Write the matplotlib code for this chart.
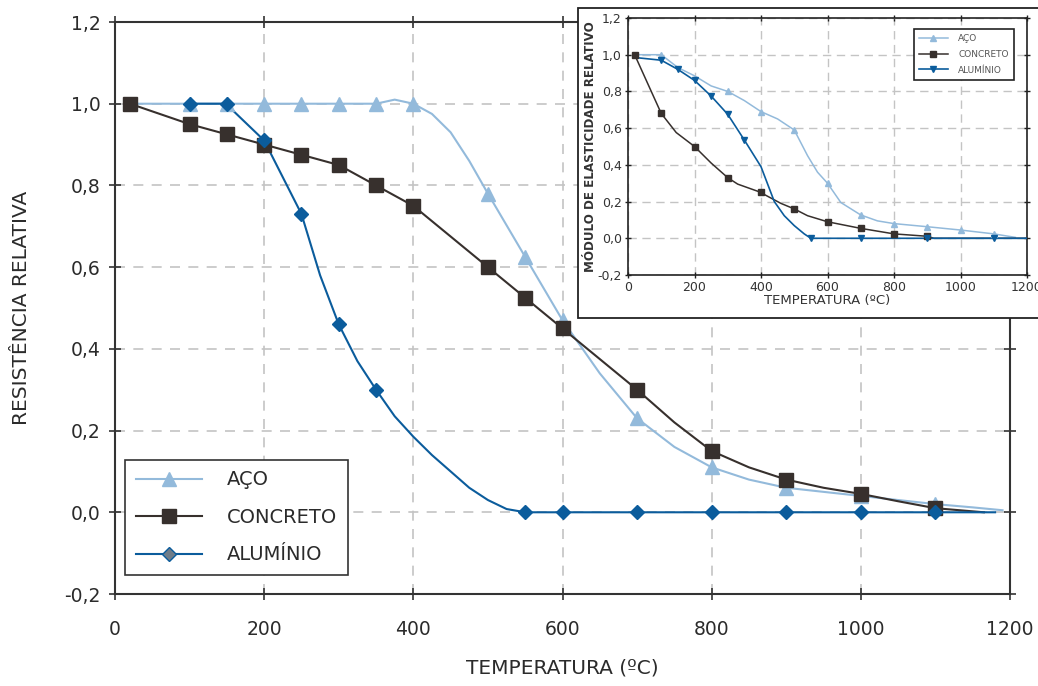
import numpy as np
import matplotlib
matplotlib.use('Agg')
import matplotlib.pyplot as plt
from matplotlib.patches import Rectangle

# ---- main chart data (resistencia relativa) ----
aco_line_t = [20, 100, 150, 200, 250, 300, 350, 375, 400, 425, 450, 475, 500, 550, 600, 650, 700, 750, 800, 850, 900, 950, 1000, 1050, 1100, 1150, 1190]
aco_line_v = [1.0, 1.0, 1.0, 1.0, 1.0, 1.0, 1.0, 1.01, 1.0, 0.975, 0.93, 0.86, 0.78, 0.625, 0.47, 0.34, 0.23, 0.16, 0.11, 0.08, 0.06, 0.05, 0.04, 0.03, 0.02, 0.012, 0.005]
aco_mk_t = [100, 150, 200, 250, 300, 350, 400, 500, 550, 600, 700, 800, 900, 1000, 1100]
aco_mk_v = [1.0, 1.0, 1.0, 1.0, 1.0, 1.0, 1.0, 0.78, 0.625, 0.47, 0.23, 0.11, 0.06, 0.04, 0.02]

conc_line_t = [20, 100, 150, 200, 250, 300, 350, 400, 450, 500, 550, 600, 650, 700, 750, 800, 850, 900, 950, 1000, 1050, 1100, 1165]
conc_line_v = [1.0, 0.95, 0.925, 0.9, 0.875, 0.85, 0.80, 0.75, 0.675, 0.60, 0.525, 0.45, 0.375, 0.30, 0.22, 0.15, 0.11, 0.08, 0.06, 0.045, 0.027, 0.01, 0.0]
conc_mk_t = [20, 100, 150, 200, 250, 300, 350, 400, 500, 550, 600, 700, 800, 900, 1000, 1100]
conc_mk_v = [1.0, 0.95, 0.925, 0.9, 0.875, 0.85, 0.80, 0.75, 0.60, 0.525, 0.45, 0.30, 0.15, 0.08, 0.045, 0.01]

alu_line_t = [100, 150, 160, 200, 225, 250, 275, 300, 325, 350, 375, 400, 425, 450, 475, 500, 525, 550, 1180]
alu_line_v = [1.0, 1.0, 0.98, 0.91, 0.82, 0.73, 0.58, 0.46, 0.37, 0.30, 0.235, 0.185, 0.14, 0.10, 0.06, 0.03, 0.008, 0.0, 0.0]
alu_mk_t = [100, 150, 200, 250, 300, 350, 550, 600, 700, 800, 900, 1000, 1100]
alu_mk_v = [1.0, 1.0, 0.91, 0.73, 0.46, 0.30, 0.0, 0.0, 0.0, 0.0, 0.0, 0.0, 0.0]

# ---- inset data (modulo de elasticidade relativo) ----
e_aco_t = [20, 100, 150, 200, 250, 300, 350, 400, 450, 500, 540, 570, 600, 640, 700, 750, 800, 900, 1000, 1100, 1165]
e_aco_v = [1.0, 1.0, 0.93, 0.885, 0.83, 0.80, 0.75, 0.69, 0.65, 0.59, 0.45, 0.36, 0.30, 0.195, 0.127, 0.095, 0.08, 0.063, 0.045, 0.024, 0.005]
e_aco_mk_t = [100, 300, 400, 500, 600, 700, 800, 900, 1000, 1100]
e_aco_mk_v = [1.0, 0.80, 0.69, 0.59, 0.30, 0.127, 0.08, 0.063, 0.045, 0.024]

e_conc_t = [20, 100, 145, 200, 250, 300, 330, 395, 460, 500, 540, 600, 700, 800, 900, 920, 1200]
e_conc_v = [1.0, 0.68, 0.576, 0.50, 0.41, 0.33, 0.295, 0.253, 0.19, 0.16, 0.123, 0.09, 0.054, 0.024, 0.011, 0.0, 0.0]
e_conc_mk_t = [20, 100, 200, 300, 400, 500, 600, 700, 800, 900]
e_conc_mk_v = [1.0, 0.68, 0.50, 0.33, 0.253, 0.16, 0.09, 0.054, 0.024, 0.011]

e_alu_t = [20, 100, 150, 200, 250, 300, 350, 400, 440, 470, 500, 530, 550, 1200]
e_alu_v = [0.985, 0.97, 0.92, 0.86, 0.775, 0.675, 0.535, 0.39, 0.2, 0.123, 0.069, 0.024, 0.0, 0.0]
e_alu_mk_t = [100, 150, 200, 250, 300, 350, 550, 700, 900, 1100]
e_alu_mk_v = [0.97, 0.92, 0.86, 0.775, 0.675, 0.535, 0.0, 0.0, 0.0, 0.0]

xticks = [0, 200, 400, 600, 800, 1000, 1200]
yticks = [-0.2, 0.0, 0.2, 0.4, 0.6, 0.8, 1.0, 1.2]
ylabels = ['-0,2', '0,0', '0,2', '0,4', '0,6', '0,8', '1,0', '1,2']

c_aco = '#93badb'
c_conc = '#37302d'
c_alu = '#0b5c9c'
c_grid = '#c4c4c4'
c_txt = '#2b2b2b'

fig = plt.figure(figsize=(10.38, 6.86), dpi=100)

# main axes
ax = fig.add_axes([115/1038, 1-594/686, 895/1038, 572/686])
ax.plot(aco_line_t, aco_line_v, color=c_aco, lw=1.5, zorder=3)
ax.plot(conc_line_t, conc_line_v, color=c_conc, lw=1.5, zorder=3)
ax.plot(alu_line_t, alu_line_v, color=c_alu, lw=1.5, zorder=3)
ax.plot(aco_mk_t, aco_mk_v, ls='none', marker='^', ms=10, color=c_aco, zorder=4)
ax.plot(conc_mk_t, conc_mk_v, ls='none', marker='s', ms=10, color=c_conc, zorder=5)
ax.plot(alu_mk_t, alu_mk_v, ls='none', marker='D', ms=7, color=c_alu, zorder=6)

# legend proxies
h1, = ax.plot([], [], color=c_aco, lw=1.5, marker='^', ms=10)
h2, = ax.plot([], [], color=c_conc, lw=1.5, marker='s', ms=10)
h3, = ax.plot([], [], color=c_alu, lw=1.5, marker='D', ms=7, mfc='#6f7d8a')
leg = ax.legend([h1, h2, h3], ['AÇO', 'CONCRETO', 'ALUMÍNIO'], loc='lower left',
                bbox_to_anchor=(0.011, 0.033), borderaxespad=0, fontsize=14,
                handlelength=3.4, handletextpad=1.3, labelspacing=0.95,
                borderpad=0.55, fancybox=False, framealpha=1, labelcolor=c_txt)
leg.get_frame().set_edgecolor('#333333')
leg.get_frame().set_linewidth(1.2)

ax.set_xlim(0, 1200)
ax.set_ylim(-0.2, 1.2)
ax.set_xticks(xticks)
ax.set_yticks(yticks)
ax.set_yticklabels(ylabels)
ax.tick_params(direction='inout', length=9, width=1.2, top=True, right=True,
               labelsize=13.5, colors='#333333', labelcolor=c_txt, pad=14)
ax.tick_params(axis='y', pad=6)
ax.grid(True, color=c_grid, ls=(0, (6, 5)), lw=1.2)
for s in ax.spines.values():
    s.set_color('#333333')
    s.set_linewidth(1.5)
ax.set_xlabel('TEMPERATURA (ºC)', fontsize=14.5, color=c_txt, labelpad=14)
ax.set_ylabel('RESISTÊNCIA RELATIVA', fontsize=14.5, color=c_txt, labelpad=24)

# inset frame
fig.patches.append(Rectangle((578/1038, 1-318/686), 470/1038, 310/686,
                             transform=fig.transFigure, facecolor='white',
                             edgecolor='#222222', lw=1.3, zorder=1))

# inset axes
ai = fig.add_axes([628/1038, 1-275/686, 399/1038, 257/686], zorder=2)
ai.plot(e_aco_t, e_aco_v, color=c_aco, lw=1.1, zorder=3)
ai.plot(e_conc_t, e_conc_v, color=c_conc, lw=1.1, zorder=3)
ai.plot(e_alu_t, e_alu_v, color=c_alu, lw=1.2, zorder=3)
ai.plot(e_aco_mk_t, e_aco_mk_v, ls='none', marker='^', ms=4.5, color=c_aco, zorder=4)
ai.plot(e_conc_mk_t, e_conc_mk_v, ls='none', marker='s', ms=4.5, color=c_conc, zorder=5)
ai.plot(e_alu_mk_t, e_alu_mk_v, ls='none', marker='v', ms=5, color=c_alu, zorder=6)

g1, = ai.plot([], [], color=c_aco, lw=1.1, marker='^', ms=4.5)
g2, = ai.plot([], [], color=c_conc, lw=1.1, marker='s', ms=4.5)
g3, = ai.plot([], [], color=c_alu, lw=1.2, marker='v', ms=5)
leg2 = ai.legend([g1, g2, g3], ['AÇO', 'CONCRETO', 'ALUMÍNIO'], loc='upper right',
                 bbox_to_anchor=(0.967, 0.957), borderaxespad=0, fontsize=6.5,
                 handlelength=3.2, handletextpad=1.2, labelspacing=0.75,
                 borderpad=0.55, fancybox=False, framealpha=1, labelcolor='#555555')
leg2.get_frame().set_edgecolor('#222222')
leg2.get_frame().set_linewidth(1.2)

ai.set_xlim(0, 1200)
ai.set_ylim(-0.2, 1.2)
ai.set_xticks(xticks)
ai.set_yticks(yticks)
ai.set_yticklabels(ylabels)
ai.tick_params(direction='inout', length=5, width=1, top=True, right=True,
               labelsize=9, colors='#222222', labelcolor='#333333', pad=2)
ai.grid(True, color=c_grid, ls=(0, (6, 4)), lw=1.0)
for s in ai.spines.values():
    s.set_color('#222222')
    s.set_linewidth(1.2)
ai.set_xlabel('TEMPERATURA (ºC)', fontsize=9.5, color='#333333', labelpad=0)
ai.set_ylabel('MÓDULO DE ELASTICIDADE RELATIVO', fontsize=8.6, fontweight='bold',
              color='#333333', labelpad=0)

fig.savefig('out.png', dpi=100)
